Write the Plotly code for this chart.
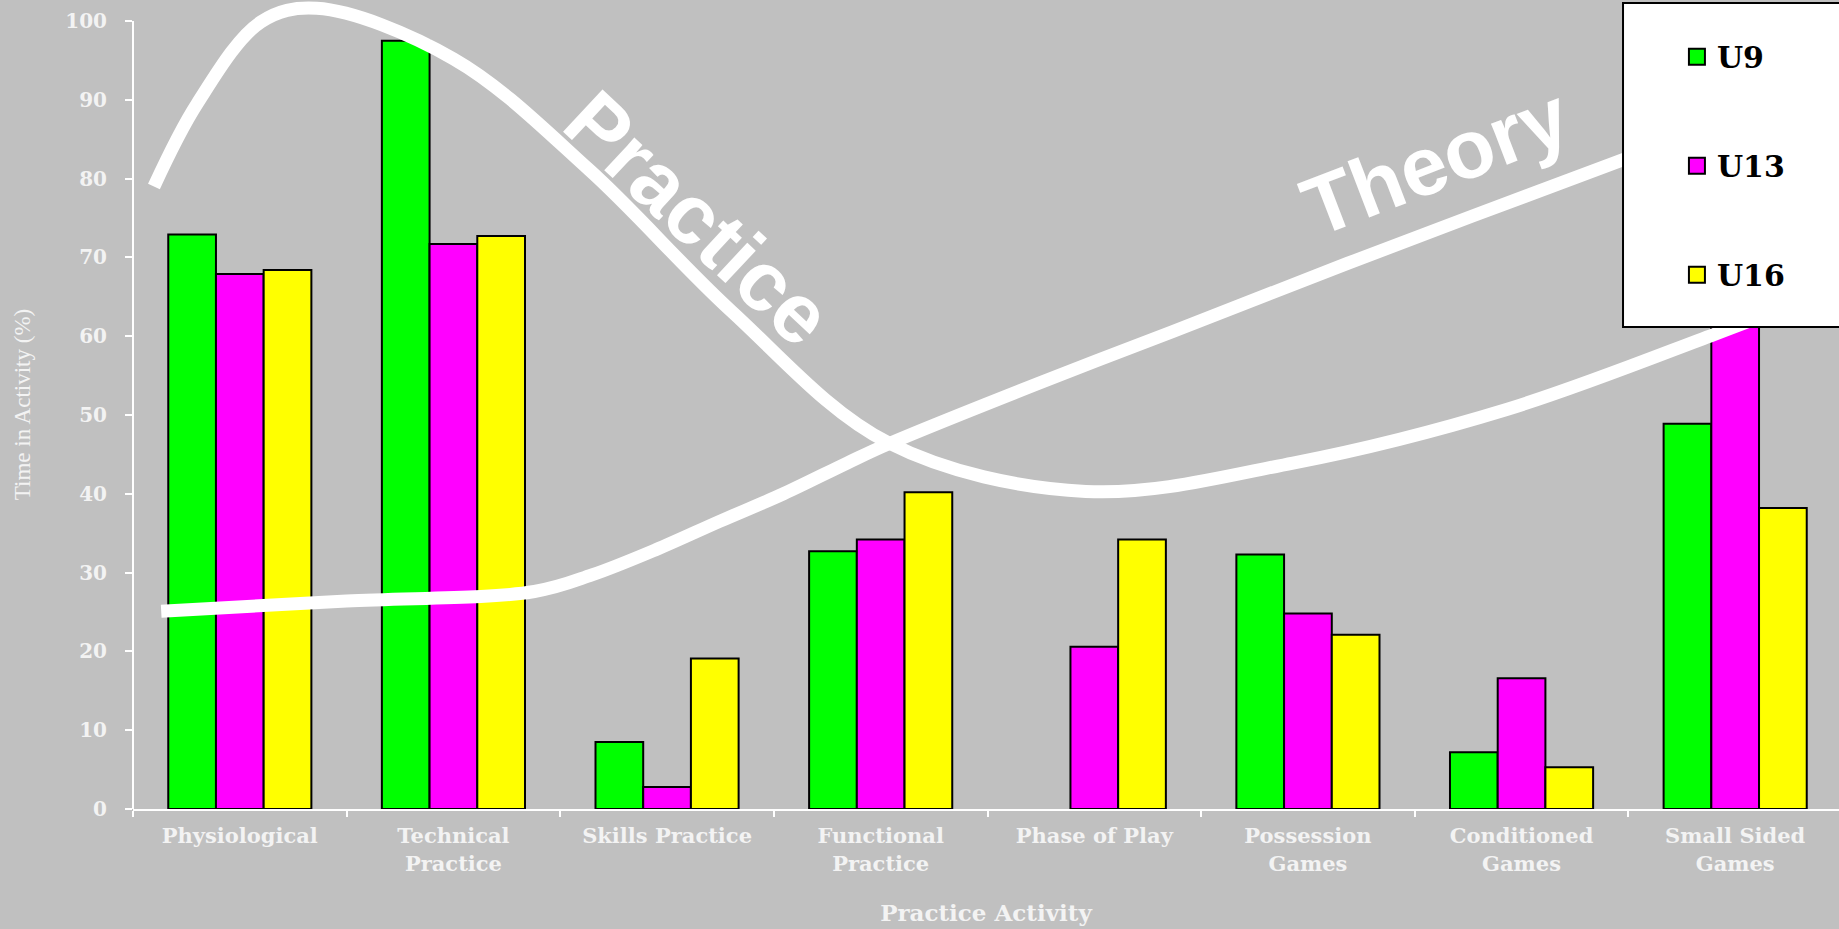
import plotly.graph_objects as go

# ---- data -------------------------------------------------------------
categories = [
    "Physiological",
    "Technical<br>Practice",
    "Skills Practice",
    "Functional<br>Practice",
    "Phase of Play",
    "Possession<br>Games",
    "Conditioned<br>Games",
    "Small Sided<br>Games",
]
series_names = ["U9", "U13", "U16"]
u9 = [72.9, 97.5, 8.5, 32.7, 0.0, 32.3, 7.2, 48.9]
u13 = [67.9, 71.7, 2.8, 34.2, 20.6, 24.8, 16.6, 65.0]
u16 = [68.4, 72.7, 19.1, 40.2, 34.2, 22.1, 5.3, 38.2]
series_values = [u9, u13, u16]
series_colors = ["#00FF00", "#FF00FF", "#FFFF00"]

y_tick_values = [0, 10, 20, 30, 40, 50, 60, 70, 80, 90, 100]

# hand-drawn trend curves (x in category index, y in %)
practice_x = [-0.402, -0.20, 0.10, 0.36, 1.0, 1.636, 2.3, 3.034, 3.96, 4.93,
              5.93, 6.9, 7.2]
practice_y = [79.0, 89.5, 99.9, 101.6, 95.2, 81.1, 63.2, 46.5, 40.3, 43.9,
              50.7, 60.2, 63.3]
theory_x = [-0.368, 0.5, 1.379, 1.648, 1.947, 2.246, 2.545, 2.843, 3.034,
            3.737, 4.368, 5.182, 6.476, 7.0]
theory_y = [25.1, 26.4, 27.6, 29.7, 32.9, 36.5, 40.0, 43.9, 46.3,
            54.0, 60.6, 69.2, 82.4, 87.5]

curve_labels = ["Practice", "Theory"]

# ---- styling ----------------------------------------------------------
BG = "#C0C0C0"
LABEL = "#F3F3F3"
SERIF = "DejaVu Serif"
X_RANGE = [-0.5, 7.486]

fig = go.Figure()

for name, vals, col in zip(series_names, series_values, series_colors):
    # no outline on empty (zero-height) bars
    outline = [2 if v > 0 else 0 for v in vals]
    fig.add_trace(go.Bar(
        x=categories, y=vals, name=name, legendgroup=name, showlegend=False,
        marker=dict(color=col, line=dict(color="black", width=outline)),
    ))

# curves live on a numeric overlay axis sharing the category positions
fig.add_trace(go.Scatter(
    x=practice_x, y=practice_y, xaxis="x2", mode="lines", showlegend=False,
    line=dict(color="white", width=13, shape="spline", smoothing=1.0),
    hoverinfo="skip",
))
fig.add_trace(go.Scatter(
    x=theory_x, y=theory_y, xaxis="x2", mode="lines", showlegend=False,
    line=dict(color="white", width=13, shape="spline", smoothing=1.0),
    hoverinfo="skip",
))

# legend keys
for name, col in zip(series_names, series_colors):
    fig.add_trace(go.Scatter(
        x=[None], y=[None], xaxis="x2", mode="markers", name=name,
        legendgroup=name,
        marker=dict(symbol="square", size=16, color=col,
                    line=dict(color="black", width=2)),
    ))

fig.update_layout(
    width=1839, height=929,
    margin=dict(l=133, r=0, t=0, b=120),
    paper_bgcolor=BG, plot_bgcolor=BG,
    barmode="group", bargap=0.33, bargroupgap=0,
    showlegend=True,
    legend=dict(
        x=0.905, y=0.962, xanchor="left", yanchor="top",
        bgcolor="rgba(0,0,0,0)", borderwidth=0,
        traceorder="grouped", tracegroupgap=67,
        font=dict(family=SERIF, size=30, color="black", weight="bold"),
    ),
    xaxis=dict(
        type="category", categoryorder="array", categoryarray=categories,
        range=X_RANGE,
        showline=True, linecolor="white", linewidth=2,
        ticks="outside", tickson="boundaries", ticklen=6, tickwidth=2,
        tickcolor="white", showgrid=False, zeroline=False,
        tickfont=dict(family=SERIF, size=21, color=LABEL, weight="bold"),
        ticklabelstandoff=7,
        title=dict(text="Practice Activity", standoff=30,
                   font=dict(family=SERIF, size=23, color=LABEL, weight="bold")),
    ),
    xaxis2=dict(
        overlaying="x", anchor="y", range=X_RANGE, visible=False,
        showgrid=False, zeroline=False,
    ),
    yaxis=dict(
        range=[0, 102.66], tickvals=y_tick_values,
        showline=False, showgrid=False, zeroline=False,
        ticks="outside", ticklen=7, tickwidth=2, tickcolor="white",
        tickfont=dict(family=SERIF, size=20, color=LABEL, weight="bold"),
        ticklabelstandoff=14,
        title=dict(text="Time in Activity (%)", standoff=28,
                   font=dict(family="Liberation Serif", size=23, color=LABEL)),
    ),
    shapes=[
        # y axis line, stopping at 100
        dict(type="line", xref="paper", yref="y", x0=0, x1=0, y0=0, y1=100,
             line=dict(color="white", width=2), layer="above"),
        # legend panel
        dict(type="rect", xref="paper", yref="paper",
             x0=0.8734, x1=1.02, y0=0.5958, y1=0.9963,
             fillcolor="white", line=dict(color="black", width=2),
             layer="above"),
    ],
    annotations=[
        dict(text=curve_labels[0], x=2.145, y=75.0, xref="x2", yref="y",
             showarrow=False, textangle=43, xanchor="center", yanchor="middle",
             font=dict(family="Liberation Sans", size=84, color="white",
                       weight="bold")),
        dict(text=curve_labels[1], x=5.598, y=82.2, xref="x2", yref="y",
             showarrow=False, textangle=-21, xanchor="center", yanchor="middle",
             font=dict(family="Liberation Sans", size=83, color="white",
                       weight="bold")),
    ],
)

fig.write_html("out.html")
